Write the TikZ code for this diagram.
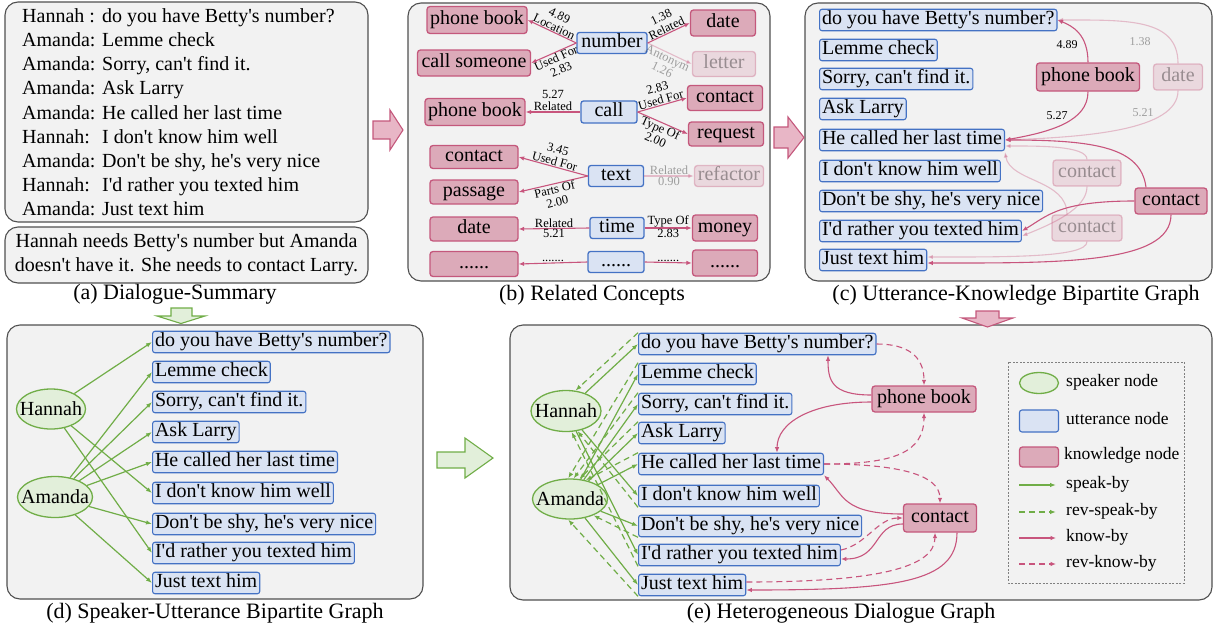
\documentclass[tikz,border=0pt]{standalone}
\usepackage{fontspec}
\setmainfont{Liberation Serif}[Ligatures=TeXOff]
\usetikzlibrary{arrows.meta,shapes.geometric,calc}
\definecolor{pfill}{RGB}{242,242,242}
\definecolor{pbord}{RGB}{80,80,80}
\definecolor{ufill}{RGB}{218,227,243}
\definecolor{ubord}{RGB}{68,114,196}
\definecolor{kfill}{RGB}{220,170,185}
\definecolor{kbord}{RGB}{196,88,124}
\definecolor{kline}{RGB}{200,85,125}
\definecolor{gfill}{RGB}{226,239,218}
\definecolor{gbord}{RGB}{112,173,71}
\definecolor{bpfill}{RGB}{232,182,198}
\newcommand\myfA{\fontsize{20}{24}\selectfont}
\newcommand\myfL{\fontsize{12.5}{12.5}\selectfont}
\newcommand\myfS{\fontsize{12}{14}\selectfont}
\newcommand\myfC{\fontsize{22}{26}\selectfont}
\newcommand\myfG{\fontsize{17.5}{20}\selectfont}
\tikzset{
 panel/.style={draw=pbord, fill=pfill, rounded corners=13pt, line width=1.1pt},
 txt/.style={font=\myfA, anchor=west, inner sep=0pt, text height=14pt, text depth=4.5pt},
 utt/.style={draw=ubord, fill=ufill, rounded corners=2.5pt, line width=1.1pt, inner xsep=2.5pt, inner ysep=1.5pt, text height=14pt, text depth=4.5pt, font=\myfA, anchor=west},
 know/.style={draw=kbord, fill=kfill, rounded corners=3pt, line width=1.3pt, inner xsep=3pt, inner ysep=0pt, text height=14pt, text depth=4.5pt, font=\myfA, minimum height=26pt},
 conc/.style={draw=ubord, fill=ufill, rounded corners=2.5pt, line width=1.3pt, inner xsep=3pt, inner ysep=0pt, text height=14pt, text depth=4.5pt, font=\myfA},
 spk/.style={ellipse, draw=gbord, fill=gfill, line width=1.3pt, inner sep=0pt},
 kedge/.style={draw=kline, line width=1.1pt, -{Latex[length=5.5pt,width=4.5pt]}},
 gedge/.style={draw=gbord, line width=1.2pt, -{Latex[length=6pt,width=4.5pt]}},
 gdash/.style={gedge, dash pattern=on 6pt off 4pt},
 kdash/.style={kedge, dash pattern=on 6pt off 4pt},
 faded/.style={opacity=0.35},
 lab/.style={font=\myfL, align=center, inner sep=0.5pt},
 slab/.style={font=\myfS, inner sep=0pt},
 capt/.style={font=\myfC, inner sep=0pt},
 lgt/.style={font=\myfG, anchor=west, inner sep=0pt},
 blockpink/.style={draw=kbord, fill=bpfill, line width=1.1pt},
 blockgreen/.style={draw=gbord, fill=gfill, line width=1.1pt},
}
\begin{document}
\begin{tikzpicture}[x=1pt,y=-1pt]
\useasboundingbox (0,0) rectangle (1221,632);
% ---------- panels
\draw[panel] (5,2) rectangle (368,222);
\draw[panel] (5,227) rectangle (368,283);
\draw[panel] (408,3) rectangle (770,281);
\draw[panel] (805,3) rectangle (1212,281);
\draw[panel] (7,325) rectangle (423,599);
\draw[panel] (510,325) rectangle (1212,600);
% ---------- block arrows
\draw[blockpink] (373,121) -- (390,121) -- (390,110) -- (403,130) -- (390,150) -- (390,139) -- (373,139) -- cycle;
\draw[blockpink] (774,127) -- (788,127) -- (788,117) -- (804,137.5) -- (788,158) -- (788,148) -- (774,148) -- cycle;
\draw[blockgreen] (171,308) -- (192,308) -- (192,316) -- (205,316) -- (181,323.5) -- (157,316) -- (171,316) -- cycle;
\draw[blockpink] (976,311) -- (999,311) -- (999,318) -- (1013,318) -- (987.5,327) -- (962,318) -- (976,318) -- cycle;
\draw[blockgreen] (437,452) -- (465,452) -- (465,438) -- (493,458) -- (465,478) -- (465,468) -- (437,468) -- cycle;
% ---------- (a) dialogue
\node[txt] (a1s) at (22,18) {Hannah :};
\node[txt] (a1u) at (102,18) {do you have Betty's number?};
\node[txt] (a2s) at (22,42) {Amanda:};
\node[txt] (a2u) at (102,42) {Lemme check};
\node[txt] (a3s) at (22,66) {Amanda:};
\node[txt] (a3u) at (102,66) {Sorry, can't find it.};
\node[txt] (a4s) at (22,90) {Amanda:};
\node[txt] (a4u) at (102,90) {Ask Larry};
\node[txt] (a5s) at (22,115) {Amanda:};
\node[txt] (a5u) at (102,115) {He called her last time};
\node[txt] (a6s) at (22,139) {Hannah:};
\node[txt] (a6u) at (102,139) {I don't know him well};
\node[txt] (a7s) at (22,163) {Amanda:};
\node[txt] (a7u) at (102,163) {Don't be shy, he's very nice};
\node[txt] (a8s) at (22,187) {Hannah:};
\node[txt] (a8u) at (102,187) {I'd rather you texted him};
\node[txt] (a9s) at (22,211) {Amanda:};
\node[txt] (a9u) at (102,211) {Just text him};
\node[font=\myfA, align=center, inner sep=0pt] (sum) at (186.5,255) {Hannah needs Betty's number but Amanda\\doesn't have it. She needs to contact Larry.};
\node[capt] (capa) at (175,294) {(a) Dialogue-Summary};
% ---------- (b) related concepts
\node[know, minimum width=100, minimum height=27] (pb1) at (477,20) {phone book};
\node[know, minimum width=113] (cs) at (474,63) {call someone};
\node[conc, minimum width=70, minimum height=21] (num) at (612,43) {number};
\node[know, minimum width=65] (dtB) at (723,23) {date};
\node[know, faded, minimum width=63, minimum height=25] (let) at (724,64) {letter};
\node[know, minimum width=99, minimum height=27] (pb2) at (475,112) {phone book};
\node[conc, minimum width=56, minimum height=22] (cal) at (609,112) {call};
\node[know, minimum width=75, minimum height=25] (ctB) at (725,98) {contact};
\node[know, minimum width=75, minimum height=24] (req) at (726,134) {request};
\node[know, minimum width=88, minimum height=23] (ctL) at (474,157) {contact};
\node[know, minimum width=88, minimum height=24] (pas) at (474,192) {passage};
\node[conc, minimum width=55, minimum height=21] (tx) at (616,176) {text};
\node[know, faded, minimum width=69, minimum height=21] (rfc) at (729,176) {refactor};
\node[know, minimum width=88, minimum height=24] (dtL) at (474,229) {date};
\node[conc, minimum width=54, minimum height=21] (tim) at (617,228) {time};
\node[know, minimum width=65] (mon) at (725,228) {money};
\node[know, minimum width=88, minimum height=25] (dL) at (474,264) {......};
\node[conc, minimum width=56, minimum height=21] (dts) at (616,262) {......};
\node[know, minimum width=65] (dR) at (725,263) {......};
\draw[kedge] (num.west) -- node[lab, sloped, above] {4.89\\Location} (pb1.east);
\draw[kedge] (num.west) -- node[lab, sloped, below] {Used For\\2.83} (cs.east);
\draw[kedge] (num.east) -- node[lab, sloped, above] {1.38\\Related} (dtB.west);
\draw[kedge, faded] (num.east) -- node[lab, sloped, below, faded] {Antonym\\1.26} (let.west);
\draw[kedge] (cal.west) -- node[lab, above] {5.27\\Related} (pb2.east);
\draw[kedge] (cal.east) -- node[lab, sloped, above] {2.83\\Used For} (ctB.west);
\draw[kedge] (cal.east) -- node[lab, sloped, below] {Type Of\\2.00} (req.west);
\draw[kedge] (tx.west) -- node[lab, sloped, above] {3.45\\Used For} (ctL.east);
\draw[kedge] (tx.west) -- node[lab, sloped, below] {Parts Of\\2.00} (pas.east);
\draw[kedge, faded] (tx.east) -- node[lab, above, faded] {Related} node[lab, below, faded] {0.90} (rfc.west);
\draw[kedge] (tim.west) -- node[lab, above] {Related} node[lab, below] {5.21} (dtL.east);
\draw[kedge] (tim.east) -- node[lab, above] {Type Of} node[lab, below] {2.83} (mon.west);
\draw[kedge] (dts.west) -- node[lab, above] {.......} (dL.east);
\draw[kedge] (dts.east) -- node[lab, above] {.......} (dR.west);
\node[capt] (capb) at (592,295) {(b) Related Concepts};
% ---------- (c) utterance-knowledge
\node[utt] (c1) at (819,20) {do you have Betty's number?};
\node[utt] (c2) at (819,50) {Lemme check};
\node[utt] (c3) at (819,79) {Sorry, can't find it.};
\node[utt] (c4) at (819,109) {Ask Larry};
\node[utt] (c5) at (819,140) {He called her last time};
\node[utt] (c6) at (819,171) {I don't know him well};
\node[utt] (c7) at (819,201) {Don't be shy, he's very nice};
\node[utt] (c8) at (819,231) {I'd rather you texted him};
\node[utt] (c9) at (819,260) {Just text him};
\node[know, minimum width=103, minimum height=28] (pbC) at (1088,77) {phone book};
\node[know, faded, minimum width=49] (dtC) at (1178,77) {date};
\node[know, faded, minimum width=68] (ct1) at (1087,173) {contact};
\node[know, faded, minimum width=70] (ct2) at (1087,228) {contact};
\node[know, minimum width=72] (ctC) at (1171,201) {contact};
\draw[kedge, faded] (dtC.north) .. controls +(0,-45) and +(70,0) .. (c1.east);
\draw[kedge, faded] (dtC.south) .. controls +(0,40) and +(80,-3) .. (c5.east);
\draw[kedge, faded] (ct1.north) .. controls +(0,-14) and +(30,0) .. ([yshift=-6pt]c5.east);
\draw[kedge, faded] ([xshift=-20pt]ct2.north) .. controls +(0,-35) and +(5,30) .. ([yshift=-12pt]c5.east);
\draw[kedge, faded] (ct1.south) .. controls +(0,22) and +(30,-12) .. ([yshift=-5pt]c8.east);
\draw[kedge, faded] (ct2.south) .. controls +(0,16) and +(80,0) .. ([yshift=3pt]c9.east);
\draw[kedge] (pbC.north) .. controls +(0,-28) and +(15,6) .. (c1.east);
\draw[kedge] (pbC.south) .. controls +(0,30) and +(45,-8) .. (c5.east);
\draw[kedge] ([xshift=-25pt]ctC.north) .. controls +(-5,-40) and +(90,0) .. (c5.east);
\draw[kedge] (ctC.west) .. controls +(-75,0) and +(25,-15) .. (c8.east);
\draw[kedge] (ctC.south) .. controls +(0,50) and +(130,0) .. ([yshift=-3pt]c9.east);
\node[slab] (l489) at (1067,45) {4.89};
\node[slab, faded] (l138) at (1140,42) {1.38};
\node[slab] (l527) at (1057,116) {5.27};
\node[slab, faded] (l521) at (1143,113) {5.21};
\node[capt] (capc) at (1016,295) {(c) Utterance-Knowledge Bipartite Graph};
% ---------- (d) speaker-utterance
\node[utt] (d1) at (152,342) {do you have Betty's number?};
\node[utt] (d2) at (152,372) {Lemme check};
\node[utt] (d3) at (152,402) {Sorry, can't find it.};
\node[utt] (d4) at (152,432) {Ask Larry};
\node[utt] (d5) at (152,462) {He called her last time};
\node[utt] (d6) at (152,493) {I don't know him well};
\node[utt] (d7) at (152,524) {Don't be shy, he's very nice};
\node[utt] (d8) at (152,553) {I'd rather you texted him};
\node[utt] (d9) at (152,583) {Just text him};
\node[spk, minimum width=69, minimum height=40] (Hd) at (51,409) {};
\node[font=\myfA, inner sep=0pt] (Hdt) at (Hd) {Hannah};
\node[spk, minimum width=75, minimum height=41] (Ad) at (55,497) {};
\node[font=\myfA, inner sep=0pt] (Adt) at (Ad) {Amanda};
\foreach \u in {d1,d6,d8} \draw[gedge] (Hd) -- (\u.west);
\foreach \u in {d2,d3,d4,d5,d7,d9} \draw[gedge] (Ad) -- (\u.west);
\node[capt] (capd) at (215,613) {(d) Speaker-Utterance Bipartite Graph};
% ---------- (e) heterogeneous graph
\node[utt] (e1) at (638,344) {do you have Betty's number?};
\node[utt] (e2) at (638,374) {Lemme check};
\node[utt] (e3) at (638,404) {Sorry, can't find it.};
\node[utt] (e4) at (638,433) {Ask Larry};
\node[utt] (e5) at (638,464) {He called her last time};
\node[utt] (e6) at (638,496) {I don't know him well};
\node[utt] (e7) at (638,526) {Don't be shy, he's very nice};
\node[utt] (e8) at (638,555) {I'd rather you texted him};
\node[utt] (e9) at (638,585) {Just text him};
\node[spk, minimum width=70, minimum height=41] (He) at (566,411) {};
\node[font=\myfA, inner sep=0pt] (Het) at (He) {Hannah};
\node[spk, minimum width=75, minimum height=40] (Ae) at (570,499) {};
\node[font=\myfA, inner sep=0pt] (Aet) at (Ae) {Amanda};
\foreach \u in {e1,e6,e8} \draw[gedge] (He) -- (\u.west);
\foreach \u in {e2,e3,e4,e5,e7,e9} \draw[gedge] (Ae) -- (\u.west);
\draw[gdash] (e1.north west) -- (He.65);
\draw[gdash] (e6.south west) -- (He.-60);
\draw[gdash] (e8.south west) -- (He.-75);
\draw[gdash] (e2.north west) -- (Ae.95);
\draw[gdash] (e3.north west) -- (Ae.80);
\draw[gdash] (e4.north west) -- (Ae.65);
\draw[gdash] (e5.north west) -- (Ae.50);
\draw[gdash] (e7.south west) -- (Ae.-35);
\draw[gdash] (e9.south west) -- (Ae.-95);
\node[know, minimum width=104] (pbE) at (924,399) {phone book};
\node[know, minimum width=73, minimum height=28] (ctE) at (940,518) {contact};
\draw[kedge] ([yshift=4pt]pbE.west) .. controls +(-40,0) and +(0,25) .. ($(e1.south west)+(190,0)$);
\draw[kedge] ([yshift=-3pt]pbE.west) .. controls +(-60,0) and +(0,-30) .. ($(e5.north west)+(139,0)$);
\draw[kdash] (e1.east) .. controls +(30,0) and +(0,-30) .. (pbE.north);
\draw[kdash] (e5.east) .. controls +(70,0) and +(0,40) .. (pbE.south);
\draw[kdash] (e5.east) .. controls +(70,0) and +(0,-30) .. (ctE.north);
\draw[kedge] ([yshift=4pt]ctE.west) .. controls +(-60,0) and +(20,20) .. (e5.south east);
\draw[kdash] ([yshift=5pt]e8.east) .. controls +(25,-5) and +(-25,0) .. (ctE.west);
\draw[kedge] ([yshift=-6pt]ctE.west) .. controls +(-30,0) and +(40,0) .. ([yshift=-4pt]e8.east);
\draw[kdash] ([yshift=3pt]e9.east) .. controls +(130,0) and +(0,35) .. ([xshift=-5pt]ctE.south);
\draw[kedge] ([xshift=17pt]ctE.south) .. controls +(0,50) and +(150,0) .. ([yshift=-5pt]e9.east);
% legend
\draw[draw=gray, line width=0.6pt, dash pattern=on 2pt off 1.5pt] (1008,362) rectangle (1184,583);
\node[spk, minimum width=39, minimum height=21] (lgS) at (1039,383) {};
\node[lgt] (lgSt) at (1066,382) {speaker node};
\node[utt, anchor=center, minimum width=39, minimum height=22] (lgU) at (1039,421) {};
\node[lgt] (lgUt) at (1066,419) {utterance node};
\node[know, minimum width=39, minimum height=20] (lgK) at (1039,457) {};
\node[lgt] (lgKt) at (1064,455) {knowledge node};
\coordinate (g1a) at (1019,485); \coordinate (g1b) at (1056,485);
\draw[gedge] (g1a) -- (g1b);
\node[lgt] (g1t) at (1066,484) {speak-by};
\coordinate (g2a) at (1019,512); \coordinate (g2b) at (1056,512);
\draw[gdash] (g2a) -- (g2b);
\node[lgt] (g2t) at (1066,511) {rev-speak-by};
\coordinate (g3a) at (1019,538); \coordinate (g3b) at (1056,538);
\draw[kedge] (g3a) -- (g3b);
\node[lgt] (g3t) at (1066,537) {know-by};
\coordinate (g4a) at (1019,564); \coordinate (g4b) at (1056,564);
\draw[kdash] (g4a) -- (g4b);
\node[lgt] (g4t) at (1066,563) {rev-know-by};
\node[capt] (cape) at (841,613) {(e) Heterogeneous Dialogue Graph};
\end{tikzpicture}
\end{document}
